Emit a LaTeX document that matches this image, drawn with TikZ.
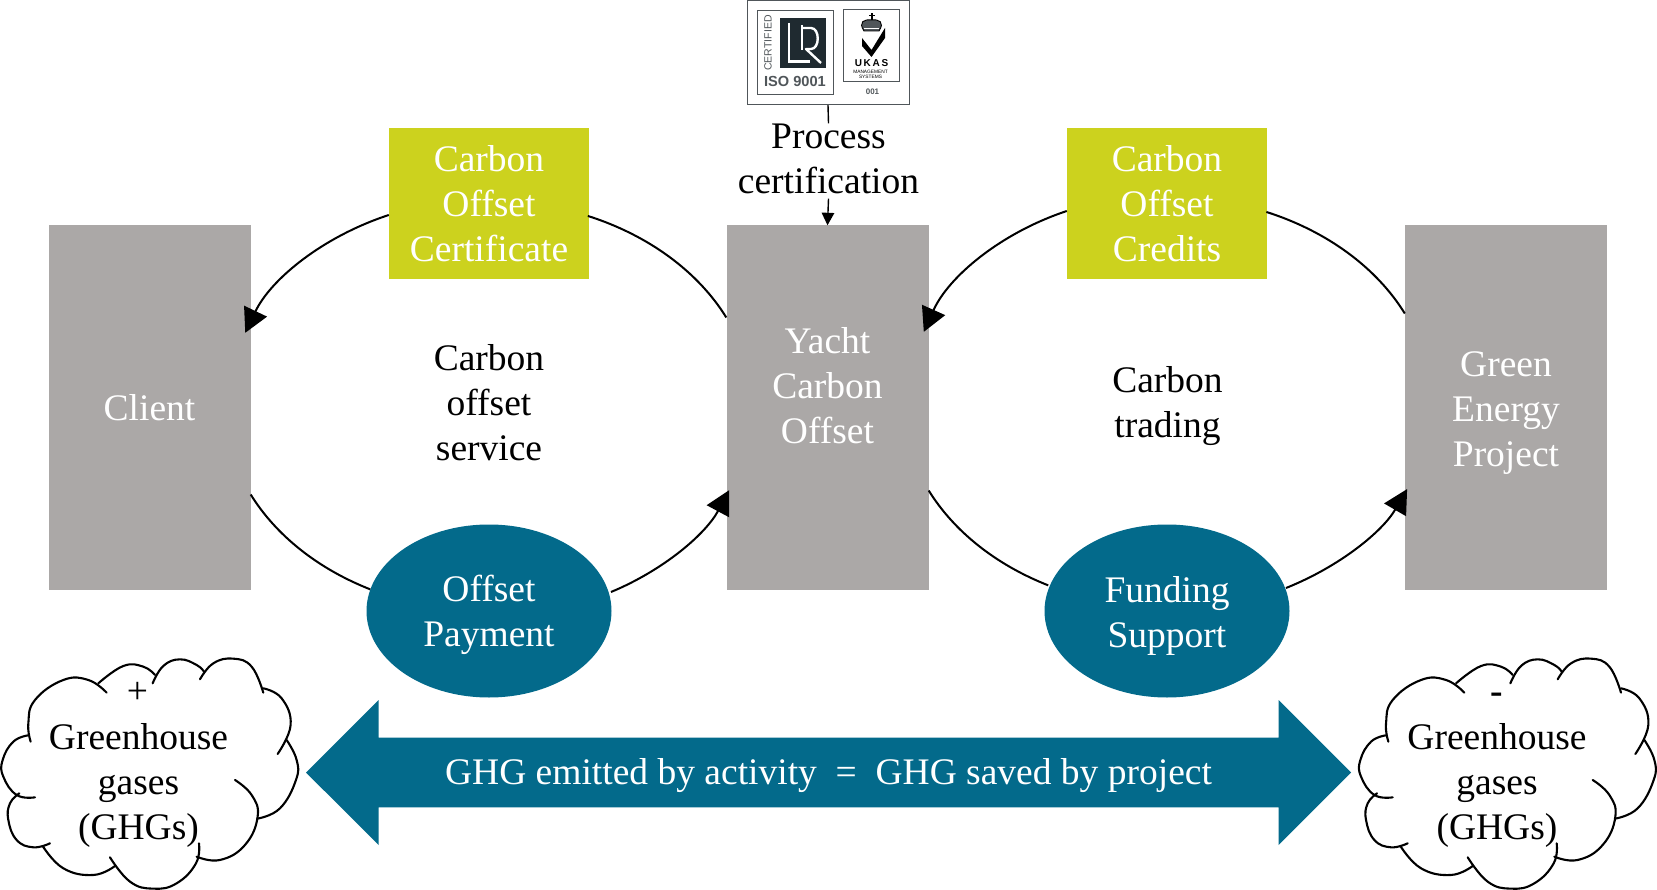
\documentclass[tikz,border=0pt]{standalone}
\usepackage{fontspec}
\setmainfont{Liberation Serif}
\newfontfamily\logofont{Liberation Sans}
\usetikzlibrary{arrows.meta,calc,shapes.geometric,shapes.arrows}
\definecolor{slab}{HTML}{ABA8A7}
\definecolor{lime}{HTML}{CCD21E}
\definecolor{teal}{HTML}{036A8B}
\definecolor{logoline}{HTML}{50565A}
\definecolor{logodark}{HTML}{1F2A30}
\tikzset{
  body/.style={font=\fontsize{37.5}{45}\selectfont,align=center,inner sep=0pt},
  slabbox/.style={body,rectangle,fill=slab,text=white,minimum width=202pt,minimum height=364pt},
  limebox/.style={body,rectangle,fill=lime,text=white,minimum width=200pt,minimum height=151pt},
  tealoval/.style={body,ellipse,fill=teal,text=white,minimum width=245pt,minimum height=173pt},
  plain/.style={body,text=black},
  conn/.style={draw=black,line width=2pt},
  connarrow/.style={conn,-{Triangle[length=24pt,width=25pt]}},
  small/.style={draw=black,line width=1.4pt,-{Triangle[length=12.5pt,width=12.5pt]}},
  lobe/.style={draw=black,line width=2.1pt,line cap=round,smooth,tension=.75},
  frame/.style={draw=logoline,line width=1pt,inner sep=0pt,rectangle}
}
\newcommand{\cloudlobes}[1]{%
\begin{scope}[xshift=#1pt,yshift=-630pt,x=.3333pt,y=-.3333pt]
\draw[lobe] plot coordinates {(92,335)(85,280)(105,210)(190,150)(265,150)(320,188)};
\draw[lobe] plot coordinates {(295,160)(370,108)(430,110)(465,135)};
\draw[lobe] plot coordinates {(458,160)(490,108)(540,88)(590,105)(612,125)};
\draw[lobe] plot coordinates {(600,148)(640,100)(700,86)(755,110)(790,188)};
\draw[lobe] plot coordinates {(790,175)(845,205)(872,285)(833,372)};
\draw[lobe] plot coordinates {(860,330)(890,390)(888,450)(840,535)(772,566)};
\draw[lobe] plot coordinates {(705,450)(755,495)(773,560)(735,645)(660,690)(590,680)};
\draw[lobe] plot coordinates {(597,640)(588,700)(530,760)(460,776)(390,755)(330,682)};
\draw[lobe] plot coordinates {(345,708)(280,735)(190,715)(128,648)};
\draw[lobe] plot coordinates {(150,640)(100,652)(50,630)(25,570)(30,520)(58,490)};
\draw[lobe] plot coordinates {(105,502)(50,495)(10,440)(8,390)(40,335)(85,316)};
\end{scope}}
\begin{document}
\begin{tikzpicture}[x=1pt,y=-1pt]
\useasboundingbox (0,0) rectangle (1657,890);
% main boxes
\node[slabbox] (client) at (149.5,407.5) {\rule{0pt}{27pt}Client};
\node[slabbox] (yacht) at (827.5,407.5) {\rule{0pt}{27pt}Yacht\\Carbon\\Offset\\ };
\node[slabbox] (green) at (1506,407.5) {\rule{0pt}{36pt}Green\\Energy\\Project};
\node[limebox] (cert) at (489,203.5) {Carbon\\Offset\\Certificate};
\node[limebox] (credits) at (1167,203.5) {Carbon\\Offset\\Credits};
\node[tealoval] (payment) at (489,611) {\rule{0pt}{35pt}Offset\\Payment};
\node[tealoval] (funding) at (1167,611) {\rule{0pt}{35pt}Funding\\Support};
\node[plain] (service) at (489,403) {Carbon\\offset\\service};
\node[plain] (trading) at (1167.5,406) {Carbon\\trading};
\node[plain] (process) at (828.5,158.5) {Process\\certification};
% left loop
\draw[connarrow] ($(cert.west)+(0,11.5)$) arc[start angle=112.2,end angle=159.1,x radius=258pt,y radius=207pt];
\draw[conn] ($(yacht.west)+(0,-90)$) arc[start angle=25.8,end angle=67.8,x radius=265pt,y radius=207pt];
\draw[conn] ($(client.east)+(0,87)$) arc[start angle=205.8,end angle=243.3,x radius=265pt,y radius=207pt];
\draw[connarrow] ($(payment.center)+(122,-19)$) arc[start angle=297.4,end angle=336.7,x radius=258pt,y radius=207pt];
% right loop
\draw[connarrow] ($(credits.west)+(0,7.5)$) arc[start angle=112.2,end angle=160,x radius=254.5pt,y radius=207pt];
\draw[conn] ($(green.west)+(0,-94)$) arc[start angle=25.8,end angle=67.8,x radius=265pt,y radius=207pt];
\draw[conn] ($(yacht.east)+(0,83)$) arc[start angle=205.8,end angle=243.3,x radius=265pt,y radius=207pt];
\draw[connarrow] ($(funding.center)+(119,-23)$) arc[start angle=297.4,end angle=335.8,x radius=268pt,y radius=207pt];
% double arrow
\node[body,double arrow,fill=teal,text=white,inner ysep=13.5pt,double arrow head extend=36.5pt,double arrow head indent=0pt,double arrow tip angle=90,minimum width=145pt,minimum height=1045pt,shape border uses incircle=false] (balance) at (828.5,772.5) {\rule{0pt}{32pt}GHG emitted by activity\ \ =\ \ GHG saved by project};
% clouds
\cloudlobes{0}
\cloudlobes{1357.7}
\node[plain] (leftgas) at (138.5,785) {Greenhouse\\gases\\(GHGs)};
\node[plain] (rightgas) at (1497,785) {Greenhouse\\gases\\(GHGs)};
\node[plain] (plus) at (137.5,693) {+};
\node[plain,font=\bfseries\fontsize{37.5}{45}\selectfont] (minus) at (1496.5,698) {-};
% certification logo
\node[frame,fill=white,minimum width=162pt,minimum height=104pt] (iso) at (828,52.7) {};
\node[frame,minimum width=76pt,minimum height=84pt] (lrbox) at (795,53) {};
\node[frame,minimum width=56pt,minimum height=72pt] (ukasbox) at (871,46) {};
\node[rectangle,fill=logodark,minimum width=46pt,minimum height=50pt,inner sep=0pt] (lrmark) at (803,43) {};
\draw[white,line width=2.4pt] (789,23) -- (789,61.5) -- (810,61.5);
\draw[white,line width=2.4pt] (802,25) -- (802,50);
\draw[white,line width=2.4pt,line join=round] (802,28) -- (811,28) .. controls (820,28) and (820,49) .. (811,49) -- (806,49) -- (821,63);
\node[font=\logofont\fontsize{10.5}{10.5}\selectfont,text=logoline,rotate=90,inner sep=0pt] (certified) at (768,43) {CERTIFIED};
\node[font=\logofont\bfseries\fontsize{14.6}{14.6}\selectfont,text=logoline,inner sep=0pt] (isotext) at (795,81.5) {ISO 9001};
\draw[black,line width=.9pt,fill=logoline] (864,31) .. controls (858,22) and (864,19) .. (871.5,20) .. controls (879,19) and (885,22) .. (879,31) -- cycle;
\draw[white,line width=.9pt] (864,28.5) -- (879,28.5);
\fill[black] (870.5,13) rectangle (872.5,20);
\fill[black] (868.5,15) rectangle (874.5,16.5);
\fill[black] (862,38) -- (871.5,50) -- (885,28) -- (885,38) -- (871.5,57) -- (862,46) -- cycle;
\node[font=\logofont\bfseries\fontsize{10}{10}\selectfont,text=black,inner sep=0pt] (ukas) at (871.5,63.5) {U\,K\,A\,S};
\node[font=\logofont\fontsize{4.8}{5.2}\selectfont,text=black,align=center,inner sep=0pt] (mgmt) at (870.5,74.5) {MANAGEMENT\\SYSTEMS};
\node[font=\logofont\bfseries\fontsize{8}{8}\selectfont,text=logoline,inner sep=0pt] (num) at (872.5,92) {001};
% certification connectors
\draw[conn,line width=1.4pt] (iso.south) -- (process.north);
\draw[small] ($(process.south)+(0,5)$) -- (yacht.north);
\end{tikzpicture}
\end{document}
